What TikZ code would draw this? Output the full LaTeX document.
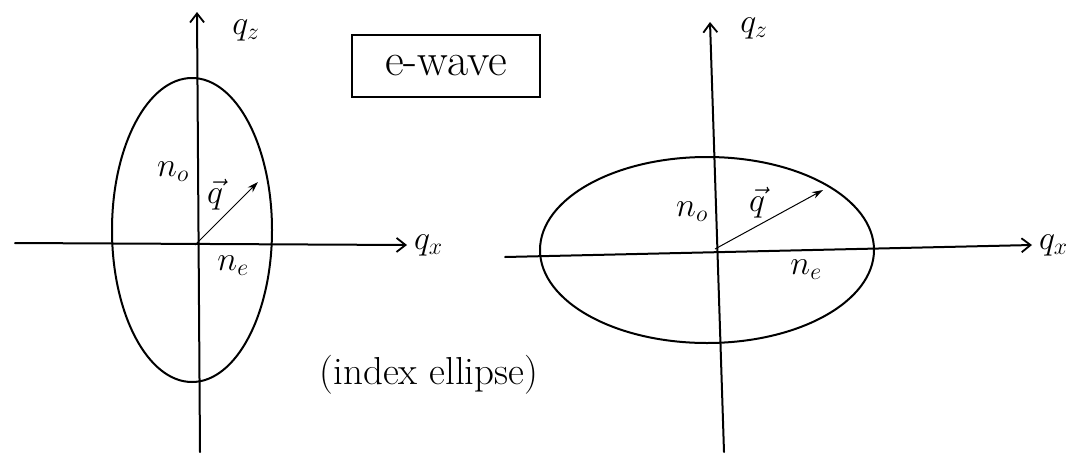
\RequirePackage{fix-cm}
\documentclass[tikz,border=0pt]{standalone}
\usetikzlibrary{arrows.meta,positioning}

\begin{document}
\begin{tikzpicture}[x=1pt, y=-1pt,
  axisline/.style={line width=2pt, line cap=round, -{Straight Barb[length=9pt, width=14pt, line width=1.8pt]}},
  ellipseline/.style={line width=2pt},
  qarrow/.style={line width=1pt, -{Stealth[length=11pt, width=7pt]}},
  lbl/.style={inner sep=1pt, font=\fontsize{34}{38}\selectfont},
  tagbox/.style={draw, line width=2pt, minimum width=188pt, minimum height=62pt, inner sep=4pt, font=\fontsize{46}{50}\selectfont},
]
\useasboundingbox (0,0) rectangle (1092,453);

% Left sketch: tall index ellipse
\coordinate (Lo) at (195,245);
\coordinate (Lbot) at (200,452);
\coordinate (Ltop) at (197,12);
\coordinate (Lleft) at (15,243);
\coordinate (Lright) at (407,245);
\coordinate (Ltip) at (258,182);
\draw[axisline] (Lbot) -- (Ltop);
\draw[axisline] (Lleft) -- (Lright);
\draw[ellipseline] (192,230) ellipse [x radius=80pt, y radius=152pt];
\draw[qarrow] (Lo) -- (Ltip);
\node[lbl] (Lqz) at (246,30) {$q_z$};
\node[lbl, right=6pt of Lright] (Lqx) {$q_x$};
\node[lbl] (Lno) at (173,172) {$n_o$};
\node[lbl] (Lqv) at (215,195) {$\vec{q}$};
\node[lbl] (Lne) at (233,266) {$n_e$};

% Label box and note
\node[tagbox] (wave) at (446,66) {e-wave};
\node[lbl, font=\fontsize{39}{44}\selectfont] (note) at (429,375) {(index ellipse)};

% Right sketch: flat index ellipse
\coordinate (Ro) at (715,249);
\coordinate (Rbot) at (724,452);
\coordinate (Rtop) at (710,22);
\coordinate (Rleft) at (505,257);
\coordinate (Rright) at (1032,245);
\coordinate (Rtip) at (823,190);
\draw[axisline] (Rbot) -- (Rtop);
\draw[axisline] (Rleft) -- (Rright);
\draw[ellipseline] (707,250) ellipse [x radius=167pt, y radius=93pt];
\draw[qarrow] (Ro) -- (Rtip);
\node[lbl] (Rqz) at (754,28) {$q_z$};
\node[lbl, right=6pt of Rright] (Rqx) {$q_x$};
\node[lbl] (Rno) at (692,212) {$n_o$};
\node[lbl] (Rqv) at (757,203) {$\vec{q}$};
\node[lbl] (Rne) at (806,270) {$n_e$};
\end{tikzpicture}
\end{document}
